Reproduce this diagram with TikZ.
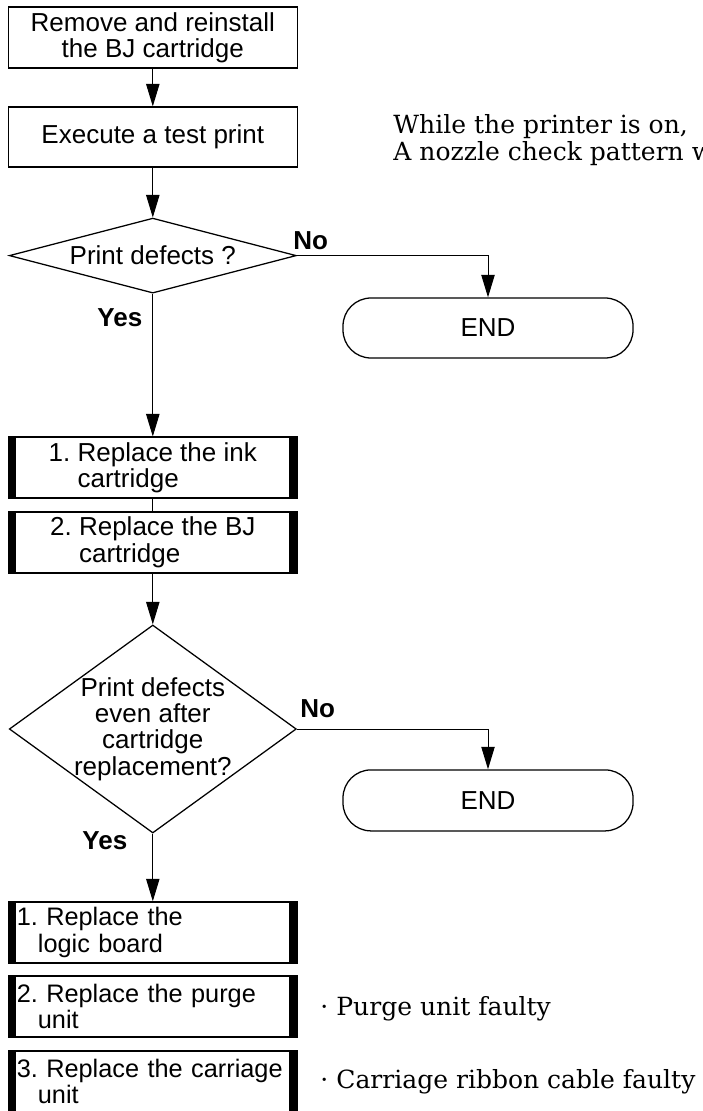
\documentclass[tikz,border=0pt]{standalone}
\usepackage{fontspec}
\setmainfont{Liberation Sans}
\newfontfamily\notefont{DejaVu Serif}
\usetikzlibrary{shapes.geometric,arrows.meta}

\begin{document}
\begin{tikzpicture}[
    font=\fontsize{18.5pt}{18.7pt}\selectfont\frenchspacing,
    line width=0.7pt,
    box/.style={draw, line width=0.9pt, minimum width=7.225cm, minimum height=1.5cm, inner sep=0pt, align=center},
    barbox/.style={box, path picture={
        \fill (path picture bounding box.north west) rectangle ([xshift=0.2cm]path picture bounding box.south west);
        \fill ([xshift=-0.2cm]path picture bounding box.north east) rectangle (path picture bounding box.south east);}},
    leftbox/.style={barbox, text width=6.8cm, align=left, inner xsep=0.2125cm,
        font=\fontsize{18pt}{18.7pt}\selectfont\frenchspacing},
    decision/.style={draw, line width=0.9pt, diamond, shape aspect=3.8, inner sep=0pt, align=center},
    stop/.style={draw, line width=0.9pt, rounded corners=0.7cm, minimum width=7.25cm, minimum height=1.5cm},
    flow/.style={-{Triangle[length=16pt,width=9.5pt]}},
    answer/.style={font=\fontsize{18.5pt}{18.7pt}\selectfont\bfseries, inner sep=0pt},
    note/.style={font=\fontsize{17.8pt}{19.2pt}\notefont, inner sep=0pt, align=left}
]
    \useasboundingbox (0,0) rectangle (17.55,-27.775);
    \node[box, minimum height=1.525cm] (reinstall) at (3.82,-0.94) {Remove and reinstall\\the BJ cartridge};
    \node[box] (testprint) at (3.82,-3.425) {Execute a test print};
    \node[decision, minimum width=7.175cm, minimum height=1.875cm] (defects) at (3.82,-6.39) {Print defects ?};
    \node[stop] (endA) at (12.2,-8.2) {END};
    \node[barbox, minimum height=1.525cm, align=left] (ink) at (3.82,-11.69) {1. Replace the ink\\\hphantom{1. }cartridge};
    \node[barbox, minimum height=1.525cm, align=left] (bjcart) at (3.82,-13.56) {2. Replace the BJ\\\hphantom{2. }cartridge};
    \node[decision, shape aspect=1.38, minimum width=7.175cm, minimum height=5.2cm, inner sep=-0.3cm] (still) at (3.82,-18.225) {Print defects\\even after\\cartridge\\replacement?};
    \node[stop, minimum height=1.525cm] (endB) at (12.2,-20.01) {END};
    \node[leftbox, minimum height=1.525cm] (logic) at (3.82,-23.31) {\mbox{1. Replace the}\\\hphantom{1.}logic board};
    \node[leftbox, minimum height=1.525cm] (purge) at (3.82,-25.16) {\mbox{2. Replace the purge}\\\hphantom{2.}unit};
    \node[leftbox, minimum height=1.525cm] (carriage) at (3.82,-27.04) {\mbox{3. Replace the carriage}\\\hphantom{3.}unit};

    \draw[flow] (reinstall) -- (testprint);
    \draw[flow] (testprint) -- (defects);
    \draw[flow] (defects.east) -| (endA.north);
    \draw[flow] (defects.south) -- (ink);
    \draw (ink) -- (bjcart);
    \draw[flow] (bjcart) -- (still);
    \draw[flow] (still.east) -| (endB.north);
    \draw[flow] (still.south) -- (logic);

    \node[answer, anchor=south west] (noA) at ([xshift=-0.1cm, yshift=0.14cm]defects.east) {No};
    \node[answer, anchor=north east] (yesA) at ([xshift=-0.25cm, yshift=-0.35cm]defects.south) {Yes};
    \node[answer, anchor=south west] (noB) at ([xshift=0.075cm, yshift=0.275cm]still.east) {No};
    \node[answer, anchor=north east] (yesB) at ([xshift=-0.625cm, yshift=0.075cm]still.south) {Yes};

    \node[note, anchor=north west] (hint) at (9.825,-2.86) {While the printer is on,\\A nozzle check pattern w};
    \node[note, anchor=base west] (purgefault) at (8.0,-25.375) {· Purge unit faulty};
    \node[note, anchor=base west] (cablefault) at (8.0,-27.2) {· Carriage ribbon cable faulty};
\end{tikzpicture}
\end{document}
